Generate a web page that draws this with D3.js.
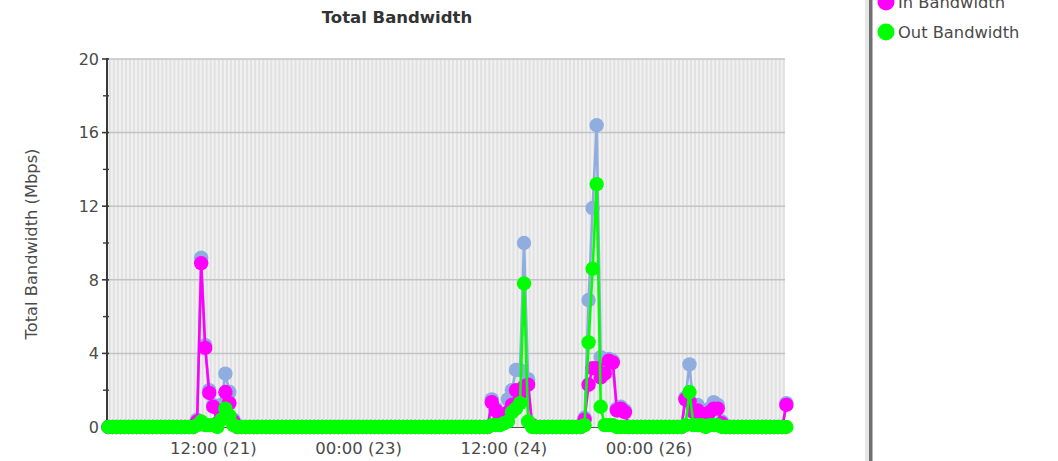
<!DOCTYPE html>
<html>
<head>
<meta charset="utf-8">
<script src="https://cdn.jsdelivr.net/npm/d3@7"></script>
<style>
  body { margin: 0; background: #ffffff; }
  svg { display: block; }
  text { font-family: "DejaVu Sans", Verdana, sans-serif; }
</style>
</head>
<body>
<svg id="chart" width="1058" height="461"></svg>
<script>
// 7-day window (20th 09:40 -> 27th 09:40); samples on the hour from 20th 10:00, Mbps.
const windowStart = "2010-03-20T09:40:00Z";
const windowEnd   = "2010-03-27T09:40:00Z";
const firstSample = "2010-03-20T10:00:00Z";

const seriesNames  = ["Total Bandwidth", "In Bandwidth", "Out Bandwidth"];
const seriesColors = ["#8faddf", "#ff00ff", "#00ff00"];

// one row per day of hourly samples
const totalMbps = [
  0,0,0,0,0,0,0,0,0,0,0,0,0,0,0,0,0,0,0,0,0,0,0.4,9.2,
  4.45,2.0,1.2,0.2,1.2,2.9,1.9,0.4,0,0,0,0,0,0,0,0,0,0,0,0,0,0,0,0,
  0,0,0,0,0,0,0,0,0,0,0,0,0,0,0,0,0,0,0,0,0,0,0,0,
  0,0,0,0,0,0,0,0,0,0,0,0,0,0,0,0,0,0,0,0,0,0,0,1.5,
  1.0,0.6,0.7,1.5,2.0,3.1,3.1,10.0,2.6,0.1,0,0,0,0,0,0,0,0,0,0,0,0,0.5,6.9,
  11.9,16.4,3.8,3.0,3.7,3.6,1.0,1.1,0.9,0,0,0,0,0,0,0,0,0,0,0,0,0,0,1.6,
  3.4,0.9,1.2,0.9,0.8,1.0,1.35,1.2,0.3,0,0,0,0,0,0,0,0,0,0,0,0,0,0,0,
  1.3
];
const inMbps = [
  0,0,0,0,0,0,0,0,0,0,0,0,0,0,0,0,0,0,0,0,0,0,0.3,8.9,
  4.3,1.85,1.1,0.2,0.8,1.9,1.3,0.3,0,0,0,0,0,0,0,0,0,0,0,0,0,0,0,0,
  0,0,0,0,0,0,0,0,0,0,0,0,0,0,0,0,0,0,0,0,0,0,0,0,
  0,0,0,0,0,0,0,0,0,0,0,0,0,0,0,0,0,0,0,0,0,0,0,1.35,
  0.9,0.5,0.5,0.8,1.2,2.0,1.8,2.2,2.3,0.1,0,0,0,0,0,0,0,0,0,0,0,0,0.4,2.3,
  3.2,3.2,2.7,2.9,3.6,3.5,0.9,1.0,0.8,0,0,0,0,0,0,0,0,0,0,0,0,0,0,1.5,
  1.4,0.8,0.9,0.7,0.7,0.8,1.0,1.0,0.2,0,0,0,0,0,0,0,0,0,0,0,0,0,0,0,
  1.2
];
const outMbps = [
  0,0,0,0,0,0,0,0,0,0,0,0,0,0,0,0,0,0,0,0,0,0,0.1,0.3,
  0.1,0.1,0.1,0,0.4,1.0,0.6,0.1,0,0,0,0,0,0,0,0,0,0,0,0,0,0,0,0,
  0,0,0,0,0,0,0,0,0,0,0,0,0,0,0,0,0,0,0,0,0,0,0,0,
  0,0,0,0,0,0,0,0,0,0,0,0,0,0,0,0,0,0,0,0,0,0,0,0.1,
  0.1,0.1,0.2,0.3,0.8,1.0,1.3,7.8,0.3,0,0,0,0,0,0,0,0,0,0,0,0,0,0.1,4.6,
  8.6,13.2,1.1,0.1,0.1,0.1,0,0,0,0,0,0,0,0,0,0,0,0,0,0,0,0,0,0.1,
  1.9,0.1,0.1,0.1,0,0.1,0.1,0.1,0,0,0,0,0,0,0,0,0,0,0,0,0,0,0,0,
  0
];

const yMajorTicks = [0, 4, 8, 12, 16, 20];
const yMinorTicks = [2, 6, 10, 14, 18];
const xTickTimes  = ["2010-03-21T12:00:00Z", "2010-03-23T00:00:00Z", "2010-03-24T12:00:00Z", "2010-03-26T00:00:00Z"];
const xTickLabels = ["12:00 (21)", "00:00 (23)", "12:00 (24)", "00:00 (26)"];

const plot = { left: 107, right: 785, top: 59, bottom: 427 };

const svg = d3.select("#chart");
const t0 = new Date(windowStart), t1 = new Date(windowEnd);
const s0 = new Date(firstSample);

const x = d3.scaleUtc().domain([t0, t1]).range([plot.left, plot.right]);
const y = d3.scaleLinear().domain([0, 20]).range([plot.bottom, plot.top]);

const sampleTime = i => d3.utcHour.offset(s0, i);
const series = [totalMbps, inMbps, outMbps].map((vals, k) => ({
  name: seriesNames[k],
  color: seriesColors[k],
  points: vals.map((v, i) => ({ t: sampleTime(i), v }))
}));

// plot background with hourly stripes
svg.append("rect")
  .attr("x", plot.left).attr("y", plot.top)
  .attr("width", plot.right - plot.left).attr("height", plot.bottom - plot.top)
  .attr("fill", "#f1f1f1");

svg.append("g")
  .selectAll("line")
  .data(d3.utcHour.range(t0, t1))
  .join("line")
  .attr("x1", d => x(d) + 1.5).attr("x2", d => x(d) + 1.5)
  .attr("y1", plot.top).attr("y2", plot.bottom)
  .attr("stroke", "#e1e1e1").attr("stroke-width", 2);

// horizontal grid
svg.append("g")
  .selectAll("line")
  .data(yMajorTicks.filter(d => d > 0))
  .join("line")
  .attr("x1", plot.left).attr("x2", plot.right)
  .attr("y1", d => y(d)).attr("y2", d => y(d))
  .attr("stroke", "#c3c3c3").attr("stroke-width", 1.5);

// x axis baseline
svg.append("line")
  .attr("x1", plot.left).attr("x2", plot.right)
  .attr("y1", plot.bottom + 0.5).attr("y2", plot.bottom + 0.5)
  .attr("stroke", "#555").attr("stroke-width", 1);

// y axis
const yAxis = svg.append("g").attr("transform", `translate(${plot.left},0)`);
yAxis.append("line")
  .attr("x1", 0).attr("x2", 0).attr("y1", plot.top - 1).attr("y2", plot.bottom + 1)
  .attr("stroke", "#3a3a3a").attr("stroke-width", 2);
yAxis.selectAll(".major")
  .data(yMajorTicks).join("line").attr("class", "major")
  .attr("x1", -5).attr("x2", 2).attr("y1", d => y(d)).attr("y2", d => y(d))
  .attr("stroke", "#3a3a3a").attr("stroke-width", 1.6);
yAxis.selectAll(".minor")
  .data(yMinorTicks).join("line").attr("class", "minor")
  .attr("x1", -4).attr("x2", 2).attr("y1", d => y(d)).attr("y2", d => y(d))
  .attr("stroke", "#3a3a3a").attr("stroke-width", 1.4);
yAxis.selectAll("text")
  .data(yMajorTicks).join("text")
  .attr("x", -8).attr("y", d => y(d)).attr("dy", "0.36em")
  .attr("text-anchor", "end")
  .attr("font-size", "16px").attr("fill", "#4a4a4a")
  .text(d => d);

// x tick labels
svg.append("g")
  .selectAll("text")
  .data(xTickTimes)
  .join("text")
  .attr("x", d => x(new Date(d)))
  .attr("y", 454)
  .attr("text-anchor", "middle")
  .attr("font-size", "16.5px").attr("fill", "#4a4a4a")
  .text((d, i) => xTickLabels[i]);

// series: line + circle markers, total drawn first, out on top
const line = d3.line().x(d => x(d.t)).y(d => y(d.v));
series.forEach(s => {
  const g = svg.append("g");
  g.append("path")
    .attr("d", line(s.points))
    .attr("fill", "none")
    .attr("stroke", s.color)
    .attr("stroke-width", 2.6)
    .attr("stroke-linejoin", "round");
  g.selectAll("circle")
    .data(s.points).join("circle")
    .attr("cx", d => x(d.t)).attr("cy", d => y(d.v))
    .attr("r", 7.2)
    .attr("fill", s.color);
});

// title
svg.append("text")
  .attr("x", 397).attr("y", 23)
  .attr("text-anchor", "middle")
  .attr("font-size", "16.5px").attr("font-weight", "bold")
  .attr("fill", "#333")
  .text("Total Bandwidth");

// y axis title
svg.append("text")
  .attr("transform", `translate(37,244) rotate(-90)`)
  .attr("text-anchor", "middle")
  .attr("font-size", "16.3px").attr("fill", "#4a4a4a")
  .text("Total Bandwidth (Mbps)");

// legend panel separator
svg.append("rect").attr("x", 865).attr("y", 0).attr("width", 4).attr("height", 461).attr("fill", "#e6e6e6");
svg.append("rect").attr("x", 869).attr("y", 0).attr("width", 3.5).attr("height", 461).attr("fill", "#6f6f6f");

// legend (the panel scrolls, so only the last two rows are in view)
const legendRowY = [-28, 2, 32];
const legend = svg.append("g");
series.forEach((s, i) => {
  if (legendRowY[i] < 0) return;
  legend.append("circle")
    .attr("cx", 886).attr("cy", legendRowY[i]).attr("r", 8.5)
    .attr("fill", s.color);
  legend.append("text")
    .attr("x", 898).attr("y", legendRowY[i]).attr("dy", "0.36em")
    .attr("font-size", "16.3px").attr("fill", "#4a4a4a")
    .text(s.name);
});
</script>
</body>
</html>
